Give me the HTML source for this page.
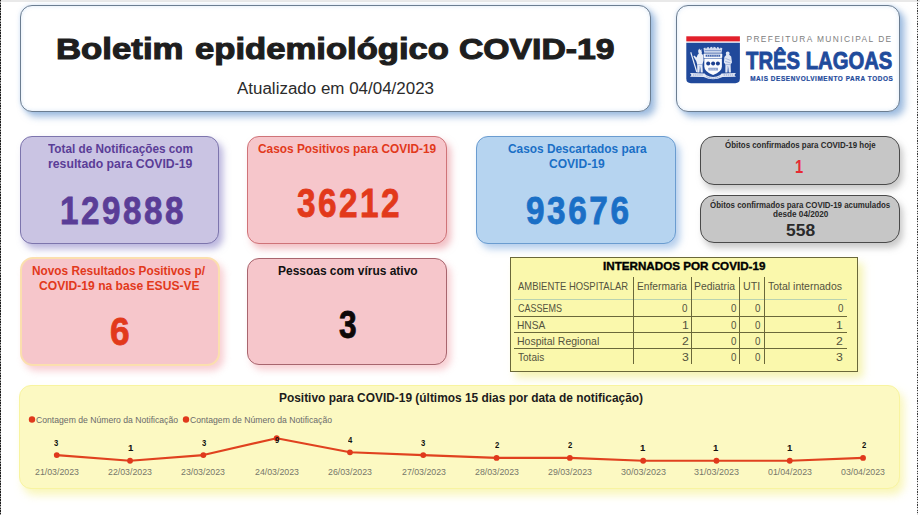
<!DOCTYPE html>
<html><head><meta charset="utf-8">
<style>
*{box-sizing:border-box;margin:0;padding:0}
html,body{width:920px;height:515px;overflow:hidden;background:#fff;font-family:"Liberation Sans",sans-serif;}
#root{position:relative;width:920px;height:515px;background:#fff;overflow:hidden}
.abs{position:absolute}
.t{position:absolute;white-space:nowrap;line-height:1;transform-origin:left top;display:block}
.box{position:absolute;border-radius:12px;border:1.3px solid #6b7d91;background:#fff;box-shadow:5px 5px 7px rgba(90,140,200,.55), 0 0 4px rgba(140,180,230,.35), inset 0 0 4px rgba(150,190,235,.35)}
.card{position:absolute;border-radius:12px;border:1px solid}
.gbox{position:absolute;border-radius:14px;border:1.1px solid #4a4a4a;background:#c6c6c6;box-shadow:3px 5px 6px rgba(150,150,150,.5)}
.hl{position:absolute;height:1.4px;background:#6a683a}
.vl{position:absolute;width:1.4px;background:#6a683a}
</style></head><body><div id="root">
<div class="abs" style="left:0;top:0;width:920px;height:1.8px;background:#e9e9e9"></div>
<div class="abs" style="left:0;top:0;width:1.3px;height:515px;background:repeating-linear-gradient(to bottom,#1a1a1a 0,#1a1a1a 1.4px,#9a9a9a 1.4px,#9a9a9a 2.7px)"></div>
<div class="abs" style="left:917px;top:0;width:1px;height:515px;background:repeating-linear-gradient(to bottom,#3c3c3c 0,#3c3c3c 1.2px,#dcdcdc 1.2px,#dcdcdc 2.6px)"></div>

<!-- title + logo boxes -->
<div class="box" style="left:20px;top:5px;width:631px;height:107px"></div>
<div class="box" style="left:676px;top:5px;width:224px;height:107px"></div>

<!-- row 1 cards -->
<div class="card" style="left:20px;top:136px;width:199px;height:107.5px;background:#cac4e3;border-color:#7d75ad;box-shadow:4px 5px 7px rgba(120,110,190,.5)"></div>
<div class="card" style="left:247px;top:136px;width:200px;height:107.5px;background:#f6c6cb;border-color:#cf7378;box-shadow:4px 5px 7px rgba(230,130,140,.5)"></div>
<div class="card" style="left:476px;top:136px;width:200px;height:107.5px;background:#b6d4f0;border-color:#6a9cd0;box-shadow:4px 5px 7px rgba(110,160,220,.5)"></div>
<div class="gbox" style="left:699.7px;top:135.8px;width:200.3px;height:49px"></div>
<div class="gbox" style="left:699.7px;top:194.9px;width:200.3px;height:48.5px"></div>

<!-- row 2 cards -->
<div class="card" style="left:19.6px;top:256.7px;width:200px;height:109.3px;background:#f6c6cb;border:2.4px solid #fbdfae;border-radius:13px;box-shadow:4px 5px 7px rgba(240,150,160,.45)"></div>
<div class="card" style="left:247px;top:258px;width:200px;height:107px;background:#f6c6cb;border-color:#a8656e;box-shadow:4px 5px 7px rgba(240,150,160,.45)"></div>

<!-- table -->
<div class="abs" style="left:509.8px;top:257.4px;width:348.2px;height:114.6px;background:#faf8ac;border:1.3px solid #6a683a;box-shadow:5px 6px 8px rgba(240,236,130,.6)"></div>
<div class="abs" style="left:514px;top:299px;width:333px;height:1px;background:#b9d3b0"></div>
<div class="hl" style="left:514px;top:315.6px;width:333px"></div>
<div class="hl" style="left:514px;top:331.9px;width:333px"></div>
<div class="hl" style="left:514px;top:348.1px;width:333px"></div>
<div class="vl" style="left:633px;top:277px;height:87px"></div>
<div class="vl" style="left:691px;top:277px;height:87px"></div>
<div class="vl" style="left:739px;top:277px;height:87px"></div>
<div class="vl" style="left:764px;top:277px;height:87px"></div>

<!-- chart -->
<div class="abs" style="left:19px;top:385px;width:881px;height:104px;border-radius:12px;background:#fcf9c2;border:1.3px solid #f8f4a0;box-shadow:4px 6px 8px rgba(245,240,140,.6)"></div>
<svg class="abs" style="left:0;top:0" width="920" height="515" viewBox="0 0 920 515">
 <g fill="#e0391c">
  <circle cx="32" cy="419.5" r="3.2"/><circle cx="186" cy="419.5" r="3.2"/>
 </g>
 <polyline points="56.75,455.10 130.05,460.74 203.35,455.10 276.65,438.18 349.95,452.28 423.25,455.10 496.55,457.92 569.85,457.92 643.15,460.74 716.45,460.74 789.75,460.74 863.05,457.92" fill="none" stroke="#e0421f" stroke-width="2.1" stroke-linejoin="round"/>
 <g fill="#e0391c"><circle cx="56.75" cy="455.10" r="2.9"/><circle cx="130.05" cy="460.74" r="2.9"/><circle cx="203.35" cy="455.10" r="2.9"/><circle cx="276.65" cy="438.18" r="2.9"/><circle cx="349.95" cy="452.28" r="2.9"/><circle cx="423.25" cy="455.10" r="2.9"/><circle cx="496.55" cy="457.92" r="2.9"/><circle cx="569.85" cy="457.92" r="2.9"/><circle cx="643.15" cy="460.74" r="2.9"/><circle cx="716.45" cy="460.74" r="2.9"/><circle cx="789.75" cy="460.74" r="2.9"/><circle cx="863.05" cy="457.92" r="2.9"/></g>
</svg>

<!-- logo -->
<svg class="abs" style="left:0;top:0" width="920" height="515" viewBox="0 0 920 515">
 <rect x="686.3" y="36.3" width="53.6" height="5.1" fill="#e2202b"/>
 <path d="M686.3 42.7 H739.9 V78.6 Q739.9 83.2 735.3 83.2 H690.9 Q686.3 83.2 686.3 78.6 Z" fill="#20499b"/>
 <!-- crown -->
 <path d="M704.2 52.8 L703.5 48.2 L705.2 47.4 L706 49 L707 47.6 L708.6 47 L709.4 48.8 L710.4 47.2 L712 46.8 L712.9 48.6 L713.8 46.8 L715.4 47.2 L716.4 48.8 L717.2 47 L718.8 47.6 L719.8 49 L720.6 47.4 L722.3 48.2 L721.6 52.8 Z" fill="#d3dcef"/>
 <path d="M704.6 50.6 H721.2" stroke="#5f7dbb" stroke-width=".7"/>
 <!-- scroll under crown -->
 <rect x="703.6" y="53.4" width="18.6" height="4.6" rx=".8" fill="#f4f6fb"/>
 <rect x="705.6" y="54.7" width="14.6" height="2" fill="#3f62ab"/>
 <path d="M707.5 54.7 v2 M709.6 54.7 v2 M711.8 54.7 v2 M714 54.7 v2 M716.2 54.7 v2 M718.3 54.7 v2" stroke="#dfe6f4" stroke-width=".6"/>
 <!-- shield -->
 <path d="M704.3 58.4 H721.9 V66.6 Q721.9 72 713.1 74.9 Q704.3 72 704.3 66.6 Z" fill="#fbfcfe"/>
 <g fill="#1d3f8f"><circle cx="708.2" cy="63.4" r="2"/><circle cx="713.1" cy="63.4" r="2"/><circle cx="717.9" cy="63.4" r="2"/></g>
 <rect x="708.4" y="67.8" width="9.6" height="2.7" rx=".5" fill="#8b9fcd"/>
 <path d="M709.6 69.2 h7.2" stroke="#e9eef8" stroke-width=".6" stroke-dasharray="1.2 .6"/>
 <!-- left supporter -->
 <g fill="#e9eef8">
  <path d="M690.2 52.4 L691.3 51.9 L697.4 72 L696.2 72.3 Z"/>
  <path d="M698.2 50.6 L699.3 48.6 L700.2 50.2 L701.3 49 L701.6 51.4 Q702.3 52.4 701.6 53.6 L703.2 55.2 L703.6 60.2 L702.4 64.4 L702.8 72.4 L700.7 72.4 L700.3 66.6 L699.4 72.4 L697.3 72.4 L697.2 64.6 L696.2 61 L693.4 56.4 L694.2 55.6 L696.6 57.6 L697.6 54.8 L698.8 53.8 Q698 52.2 698.2 50.6 Z"/>
 </g>
 <path d="M697.4 64.6 h5 M699.8 66 v6" stroke="#7f96c9" stroke-width=".6" fill="none"/>
 <!-- right supporter -->
 <path d="M726.2 52 Q727.8 50.8 729.2 52 Q730 53.4 729.2 54.8 L731.2 56.6 L732 62.4 L730.6 64.6 L730.9 72.4 L728.8 72.4 L728.2 66.8 L727.4 72.4 L725.3 72.4 L725.4 64.6 L723.9 62.4 L724.4 57 L726.2 55 Q725.4 53.4 726.2 52 Z" fill="#dfe6f4"/>
 <path d="M725.4 58.4 l5 2 M725.2 61.4 l5.4 1.6 M727.8 66 v6 M725.6 64.6 h5" stroke="#7f96c9" stroke-width=".6" fill="none"/>
 <!-- ribbon -->
 <path d="M690 73.1 L704.6 73.4 L706 74.9 Q713.1 79 720.2 74.9 L721.6 73.4 L735.9 73.1 L734.4 74.9 L735.9 76.7 L722.6 76.9 Q713.1 81.6 703.6 76.9 L690 76.7 L691.5 74.9 Z" fill="#e4e9f5"/>
 <path d="M693 75 h9.6 M723.6 75 h9.6" stroke="#8da2d0" stroke-width="1.1" stroke-dasharray="1.4 .7"/>
 <path d="M706.4 76.6 Q713.1 80 719.8 76.6" stroke="#8da2d0" stroke-width="1" fill="none" stroke-dasharray="1.4 .7"/>
</svg>

<span class="t" style="left:55.74px;top:33.90px;font-size:29.8px;font-weight:bold;color:#1e1e1e;transform:scaleX(1.1668);-webkit-text-stroke:1.1px #1e1e1e;">Boletim</span>
<span class="t" style="left:195.19px;top:33.90px;font-size:29.8px;font-weight:bold;color:#1e1e1e;transform:scaleX(1.1624);-webkit-text-stroke:1.1px #1e1e1e;">epidemiológico</span>
<span class="t" style="left:459.39px;top:33.90px;font-size:29.8px;font-weight:bold;color:#1e1e1e;transform:scaleX(1.1322);-webkit-text-stroke:1.1px #1e1e1e;">COVID-19</span>
<span class="t" style="left:237.00px;top:81.00px;font-size:15.8px;font-weight:normal;color:#2b2b2b;transform:scaleX(1.0732);">Atualizado em 04/04/2023</span>
<span class="t" style="left:48.20px;top:143.00px;font-size:12.7px;font-weight:bold;color:#5a3d97;transform:scaleX(0.9278);">Total de Notificações com</span>
<span class="t" style="left:47.59px;top:157.90px;font-size:12.7px;font-weight:bold;color:#5a3d97;transform:scaleX(0.9661);">resultado para COVID-19</span>
<span class="t" style="left:59.70px;top:190.90px;font-size:39.4px;font-weight:bold;color:#5a3d97;letter-spacing:3px;transform:scaleX(0.8431);-webkit-text-stroke:0.8px #5a3d97;">129888</span>
<span class="t" style="left:257.80px;top:143.00px;font-size:12.7px;font-weight:bold;color:#e2391b;transform:scaleX(0.9360);">Casos Positivos para COVID-19</span>
<span class="t" style="left:297.20px;top:182.60px;font-size:40.0px;font-weight:bold;color:#e2391b;letter-spacing:3px;transform:scaleX(0.8328);-webkit-text-stroke:0.8px #e2391b;">36212</span>
<span class="t" style="left:507.60px;top:143.00px;font-size:12.7px;font-weight:bold;color:#1a6fc6;transform:scaleX(0.9359);">Casos Descartados para</span>
<span class="t" style="left:549.00px;top:157.90px;font-size:12.7px;font-weight:bold;color:#1a6fc6;transform:scaleX(0.9500);">COVID-19</span>
<span class="t" style="left:525.93px;top:190.60px;font-size:39.2px;font-weight:bold;color:#1a6fc6;letter-spacing:3px;transform:scaleX(0.8516);-webkit-text-stroke:0.8px #1a6fc6;">93676</span>
<span class="t" style="left:725.40px;top:141.00px;font-size:8.8px;font-weight:bold;color:#2a2a2a;transform:scaleX(0.8982);">Óbitos confirmados para COVID-19 hoje</span>
<span class="t" style="left:795.42px;top:158.50px;font-size:17.8px;font-weight:bold;color:#e62a33;transform:scaleX(0.8257);">1</span>
<span class="t" style="left:709.80px;top:200.50px;font-size:8.8px;font-weight:bold;color:#2a2a2a;transform:scaleX(0.8969);">Óbitos confirmados para COVID-19 acumulados</span>
<span class="t" style="left:772.60px;top:210.30px;font-size:8.8px;font-weight:bold;color:#2a2a2a;transform:scaleX(0.9284);">desde 04/2020</span>
<span class="t" style="left:785.94px;top:222.10px;font-size:17.2px;font-weight:bold;color:#2a2a2a;transform:scaleX(1.0142);">558</span>
<span class="t" style="left:31.80px;top:263.85px;font-size:13.4px;font-weight:bold;color:#e2391b;transform:scaleX(0.8840);">Novos Resultados Positivos p/</span>
<span class="t" style="left:39.40px;top:278.70px;font-size:13.4px;font-weight:bold;color:#e2391b;transform:scaleX(0.9030);">COVID-19 na base ESUS-VE</span>
<span class="t" style="left:109.68px;top:311.90px;font-size:39.2px;font-weight:bold;color:#e2391b;transform:scaleX(0.8991);-webkit-text-stroke:0.8px #e2391b;">6</span>
<span class="t" style="left:277.59px;top:263.85px;font-size:13.4px;font-weight:bold;color:#111;transform:scaleX(0.8932);">Pessoas com vírus ativo</span>
<span class="t" style="left:338.80px;top:304.90px;font-size:39.6px;font-weight:bold;color:#0d0808;transform:scaleX(0.8004);-webkit-text-stroke:0.8px #0d0808;">3</span>
<span class="t" style="left:603.20px;top:261.80px;font-size:10.4px;font-weight:bold;color:#000;transform:scaleX(1.1206);-webkit-text-stroke:0.35px #000;">INTERNADOS POR COVID-19</span>
<span class="t" style="left:518.00px;top:280.50px;font-size:11.2px;font-weight:normal;color:#53533e;transform:scaleX(0.8440);">AMBIENTE HOSPITALAR</span>
<span class="t" style="left:636.97px;top:280.50px;font-size:11.2px;font-weight:normal;color:#53533e;transform:scaleX(0.9141);">Enfermaria</span>
<span class="t" style="left:694.18px;top:280.50px;font-size:11.2px;font-weight:normal;color:#53533e;transform:scaleX(0.9291);">Pediatria</span>
<span class="t" style="left:743.08px;top:280.50px;font-size:11.2px;font-weight:normal;color:#53533e;transform:scaleX(0.9527);">UTI</span>
<span class="t" style="left:768.00px;top:280.50px;font-size:11.2px;font-weight:normal;color:#53533e;transform:scaleX(0.9369);">Total internados</span>
<span class="t" style="left:517.80px;top:303.10px;font-size:11.2px;font-weight:normal;color:#53533e;transform:scaleX(0.8041);">CASSEMS</span>
<span class="t" style="left:681.82px;top:303.10px;font-size:11.2px;font-weight:normal;color:#53533e;transform:scaleX(0.8764);">0</span>
<span class="t" style="left:730.74px;top:303.10px;font-size:11.2px;font-weight:normal;color:#53533e;transform:scaleX(0.8764);">0</span>
<span class="t" style="left:754.64px;top:303.10px;font-size:11.2px;font-weight:normal;color:#53533e;transform:scaleX(0.8764);">0</span>
<span class="t" style="left:837.74px;top:303.10px;font-size:11.2px;font-weight:normal;color:#53533e;transform:scaleX(0.8764);">0</span>
<span class="t" style="left:516.76px;top:319.60px;font-size:11.2px;font-weight:normal;color:#53533e;transform:scaleX(0.9088);">HNSA</span>
<span class="t" style="left:681.59px;top:319.60px;font-size:11.2px;font-weight:normal;color:#53533e;transform:scaleX(1.0955);">1</span>
<span class="t" style="left:730.74px;top:319.60px;font-size:11.2px;font-weight:normal;color:#53533e;transform:scaleX(0.8764);">0</span>
<span class="t" style="left:754.64px;top:319.60px;font-size:11.2px;font-weight:normal;color:#53533e;transform:scaleX(0.8764);">0</span>
<span class="t" style="left:836.44px;top:319.60px;font-size:11.2px;font-weight:normal;color:#53533e;transform:scaleX(1.0955);">1</span>
<span class="t" style="left:516.78px;top:336.10px;font-size:11.2px;font-weight:normal;color:#53533e;transform:scaleX(0.9378);">Hospital Regional</span>
<span class="t" style="left:681.59px;top:336.10px;font-size:11.2px;font-weight:normal;color:#53533e;transform:scaleX(1.0955);">2</span>
<span class="t" style="left:730.74px;top:336.10px;font-size:11.2px;font-weight:normal;color:#53533e;transform:scaleX(0.8764);">0</span>
<span class="t" style="left:754.64px;top:336.10px;font-size:11.2px;font-weight:normal;color:#53533e;transform:scaleX(0.8764);">0</span>
<span class="t" style="left:836.44px;top:336.10px;font-size:11.2px;font-weight:normal;color:#53533e;transform:scaleX(1.0955);">2</span>
<span class="t" style="left:517.81px;top:352.40px;font-size:11.2px;font-weight:normal;color:#53533e;transform:scaleX(0.8968);">Totais</span>
<span class="t" style="left:681.59px;top:352.40px;font-size:11.2px;font-weight:normal;color:#53533e;transform:scaleX(1.0955);">3</span>
<span class="t" style="left:730.74px;top:352.40px;font-size:11.2px;font-weight:normal;color:#53533e;transform:scaleX(0.8764);">0</span>
<span class="t" style="left:754.64px;top:352.40px;font-size:11.2px;font-weight:normal;color:#53533e;transform:scaleX(0.8764);">0</span>
<span class="t" style="left:836.44px;top:352.40px;font-size:11.2px;font-weight:normal;color:#53533e;transform:scaleX(1.0955);">3</span>
<span class="t" style="left:278.99px;top:392.00px;font-size:12px;font-weight:bold;color:#1c1c1c;transform:scaleX(0.9925);">Positivo para COVID-19 (últimos 15 dias por data de notificação)</span>
<span class="t" style="left:35.99px;top:415.60px;font-size:9px;font-weight:normal;color:#6b6b6b;transform:scaleX(0.9590);">Contagem de Número da Notificação</span>
<span class="t" style="left:189.99px;top:415.60px;font-size:9px;font-weight:normal;color:#6b6b6b;transform:scaleX(0.9590);">Contagem de Número da Notificação</span>
<span class="t" style="left:54.43px;top:438.60px;font-size:8.4px;font-weight:bold;color:#111;transform:scaleX(0.9147);">3</span>
<span class="t" style="left:35.00px;top:468.20px;font-size:9px;font-weight:normal;color:#77776a;transform:scaleX(0.9770);">21/03/2023</span>
<span class="t" style="left:127.52px;top:444.24px;font-size:8.4px;font-weight:bold;color:#111;transform:scaleX(1.1434);">1</span>
<span class="t" style="left:108.21px;top:468.20px;font-size:9px;font-weight:normal;color:#77776a;transform:scaleX(0.9770);">22/03/2023</span>
<span class="t" style="left:201.78px;top:438.60px;font-size:8.4px;font-weight:bold;color:#111;transform:scaleX(0.9147);">3</span>
<span class="t" style="left:181.39px;top:468.20px;font-size:9px;font-weight:normal;color:#77776a;transform:scaleX(0.9770);">23/03/2023</span>
<span class="t" style="left:274.98px;top:435.78px;font-size:8.4px;font-weight:bold;color:#111;transform:scaleX(0.9147);">9</span>
<span class="t" style="left:254.60px;top:468.20px;font-size:9px;font-weight:normal;color:#77776a;transform:scaleX(0.9770);">24/03/2023</span>
<span class="t" style="left:348.20px;top:435.78px;font-size:8.4px;font-weight:bold;color:#111;transform:scaleX(0.9147);">4</span>
<span class="t" style="left:327.79px;top:468.20px;font-size:9px;font-weight:normal;color:#77776a;transform:scaleX(0.9770);">26/03/2023</span>
<span class="t" style="left:421.40px;top:438.60px;font-size:8.4px;font-weight:bold;color:#111;transform:scaleX(0.9147);">3</span>
<span class="t" style="left:402.00px;top:468.20px;font-size:9px;font-weight:normal;color:#77776a;transform:scaleX(0.9770);">27/03/2023</span>
<span class="t" style="left:494.60px;top:441.42px;font-size:8.4px;font-weight:bold;color:#111;transform:scaleX(0.9147);">2</span>
<span class="t" style="left:475.21px;top:468.20px;font-size:9px;font-weight:normal;color:#77776a;transform:scaleX(0.9770);">28/03/2023</span>
<span class="t" style="left:567.81px;top:441.42px;font-size:8.4px;font-weight:bold;color:#111;transform:scaleX(0.9147);">2</span>
<span class="t" style="left:548.40px;top:468.20px;font-size:9px;font-weight:normal;color:#77776a;transform:scaleX(0.9770);">29/03/2023</span>
<span class="t" style="left:639.81px;top:444.24px;font-size:8.4px;font-weight:bold;color:#111;transform:scaleX(1.1434);">1</span>
<span class="t" style="left:620.58px;top:468.20px;font-size:9px;font-weight:normal;color:#77776a;transform:scaleX(1.0003);">30/03/2023</span>
<span class="t" style="left:712.99px;top:444.24px;font-size:8.4px;font-weight:bold;color:#111;transform:scaleX(1.1434);">1</span>
<span class="t" style="left:693.75px;top:468.20px;font-size:9px;font-weight:normal;color:#77776a;transform:scaleX(1.0003);">31/03/2023</span>
<span class="t" style="left:787.25px;top:444.24px;font-size:8.4px;font-weight:bold;color:#111;transform:scaleX(1.1434);">1</span>
<span class="t" style="left:768.00px;top:468.20px;font-size:9px;font-weight:normal;color:#77776a;transform:scaleX(0.9770);">01/04/2023</span>
<span class="t" style="left:861.57px;top:441.42px;font-size:8.4px;font-weight:bold;color:#111;transform:scaleX(0.9147);">2</span>
<span class="t" style="left:841.21px;top:468.20px;font-size:9px;font-weight:normal;color:#77776a;transform:scaleX(0.9770);">03/04/2023</span>
<span class="t" style="left:746.40px;top:35.40px;font-size:8.4px;font-weight:normal;color:#808080;letter-spacing:1.421px;">PREFEITURA MUNICIPAL DE</span>
<span class="t" style="left:746.40px;top:49.00px;font-size:24.3px;font-weight:bold;color:#1f4b9c;transform:scaleX(0.8342);-webkit-text-stroke:0.9px #1f4b9c;">TRÊS LAGOAS</span>
<span class="t" style="left:750.20px;top:75.90px;font-size:6.4px;font-weight:bold;color:#1f4b9c;letter-spacing:0.587px;-webkit-text-stroke:0.2px #1f4b9c;">MAIS DESENVOLVIMENTO PARA TODOS</span>
</div></body></html>
